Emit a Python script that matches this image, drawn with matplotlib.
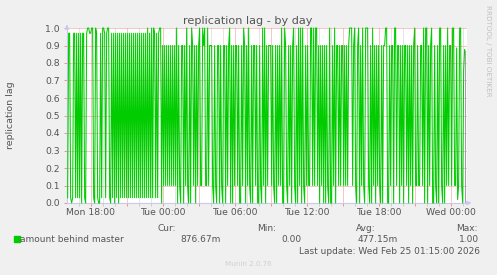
import numpy as np
import matplotlib
matplotlib.use("Agg")
import matplotlib.pyplot as plt

# -------- DATA (5 minute samples) --------
# Mon 16:05 - 18:00
mon_evening = [0.03, 0.97, 0.97, 0.03, 0, 0.03, 0.97, 0.97, 0.03, 0.97, 0.03, 0.97,
               0.03, 0.97, 0, 0.97, 0.97, 0.03, 0, 0.97, 1, 1, 0.97]
# Mon 18:05 - Tue 00:00
mon_night = [0.97, 1, 1, 0.03, 0, 1, 0.97, 0.03, 0, 0, 0.97, 0.03, 1, 1, 0.97, 0.03,
             0.97, 1, 1, 0.03, 0, 0.97, 0.03, 0.97, 0, 0.97, 0.03, 0.97, 0, 0.97, 0.03,
             0.97, 0.03, 0.97, 0.03, 0.97, 0.03, 0.97, 0.03, 0.97, 0.03, 0.97, 0.03, 0.97,
             0.03, 0.97, 0.03, 0.97, 0.03, 0.97, 0.03, 0.97, 0.03, 0.97, 0.03, 0.97, 0.03,
             1, 0.03, 0.97, 0.03, 1, 0.03, 1, 0.97, 0.03, 0.97, 0.03, 0.97, 1, 1, 0]
# Tue 00:05 - 06:00
tue_early = [0.9, 0.1, 0.9, 0.1, 0.9, 0.1, 0.9, 0.1, 0.9, 0.1, 0.9, 0.1, 0.9, 0.1,
             1, 0, 0.9, 0.1, 0, 0.9, 0.9, 0, 0.9, 0.1,
             1, 0.1, 0, 0.9, 0, 1, 0.9, 0.1, 0.9, 0,
             0.9, 0.1, 0.9, 1, 0.1, 0.1, 1, 0.9, 1, 0.1,
             0.1, 1, 0.1, 0.9, 0.9, 0.9, 0.1, 0, 0.9, 0.1,
             0, 0.9, 0.9, 0, 0.9, 0.1, 0, 0.9, 0.9, 0,
             0.9, 0.1, 0.9, 1, 0, 0.9, 0, 0.9]
# Tue 06:05 - 12:00
tue_morning = [0.1, 0.9, 0.9, 0.1, 0.9, 0, 0, 0.9, 0.1, 1,
               0.9, 0, 0.9, 0.1, 1, 0.1, 0, 0.9, 0, 0.9,
               0.9, 0.1, 0.9, 0, 0, 0.9, 0.1, 0, 1, 0.1,
               1, 0, 0.9, 0.1, 0.9, 0.9, 0.9, 0.1, 0.9, 0.1,
               0, 0.9, 0, 0.9, 0.1, 0.9, 0.1, 1, 0, 0,
               1, 0.9, 0.1, 0, 0.9, 0.1, 0.9, 0, 0.9, 1,
               0.1, 0, 0.9, 0, 1, 0.1, 1, 0, 1, 0.1,
               0, 0.9]
# Tue 12:05 - 18:00
tue_afternoon = [0.1, 0.9, 0.1, 0.1, 1, 1, 0.1, 1, 0.1, 1,
                 1, 0.1, 0.9, 0, 0.9, 0.1, 0.9, 0, 0.9, 0,
                 0.9, 0.1, 0, 1, 0, 0, 0.9, 0.1, 1, 0,
                 0.9, 0.9, 0.1, 0.9, 0.1, 0.9, 0.9, 0.1, 0.9, 0.1,
                 0.9, 0.1, 0.9, 1, 1, 1, 0.1, 0.9, 1, 0.1,
                 0, 0.9, 1, 0, 0.9, 0.1, 1, 0.1, 0, 1,
                 1, 1, 0.1, 0, 0.9, 0, 1, 0.1, 0.9, 0,
                 0.9, 0.1]
# Tue 18:05 - Wed 00:00
tue_evening = [0.9, 0.1, 0, 0.9, 0, 0.9, 0.9, 1, 1, 0,
               0, 0.9, 0.1, 0.9, 0.9, 0, 1, 1, 0.1, 0.9,
               0.9, 0, 0.9, 0.1, 0.9, 0, 0.9, 0.9, 0.1, 0.9,
               0, 0.9, 0.1, 0.9, 0, 0.9, 1, 0.1, 0.1, 0.9,
               0.1, 0.1, 0.9, 0.9, 0.1, 1, 0, 1, 1, 0,
               0.9, 0.1, 0.9, 1, 0, 0, 0.9, 0.1, 0, 0.9,
               0, 1, 1, 0.1, 0, 0.9, 0, 0.9, 0.1, 1,
               0.1, 0.9]
# Wed 00:05 - 01:15
wed_early = [0.9, 0.1, 1, 1, 0.1, 0.1, 0.886, 0.02, 0.1, 1, 1, 0.1, 0, 0.76, 0.877]

tick_hours = [18, 24, 30, 36, 42, 48]   # hours since Mon 00:00
tick_labels = ["Mon 18:00", "Tue 00:00", "Tue 06:00", "Tue 12:00", "Tue 18:00", "Wed 00:00"]

series_label = "amount behind master"
stat_names = ["Cur:", "Min:", "Avg:", "Max:"]
stat_values = ["876.67m", "0.00", "477.15m", "1.00"]
last_update = "Last update: Wed Feb 25 01:15:00 2026"


# -------- BUILD SERIES --------
lag = mon_evening + mon_night + tue_early + tue_morning + tue_afternoon + tue_evening + wed_early
first = 16 + 5 / 60          # Mon 16:05
times = first + np.arange(len(lag)) * 5 / 60

W, H = 497, 275
TEXT = "#555555"
RED = "#F09090"
GREY = "#CCCCCC"
AXIS = "#C8C8F0"

fig = plt.figure(figsize=(W / 100, H / 100), dpi=100, facecolor="#F0F0F0")
ax = fig.add_axes([67 / W, 1 - 203 / H, 400 / W, 175 / H])
ax.set_facecolor("white")

ax.plot(times, lag, color="#00CC00", lw=0.75, clip_on=False, zorder=3)
ax.vlines(times[-1], 0, lag[-1], color="#A0A0A0", lw=0.8, zorder=3)

x0 = 16.03
ax.set_xlim(x0, x0 + 400 / 12)
ax.set_ylim(0, 1)

# grid: hourly grey, 3-hourly red, labels every 6 hours
major = np.arange(18, 49, 3)
ax.set_xticks(major)
ax.set_xticklabels([tick_labels[tick_hours.index(h)] if h in tick_hours else "" for h in major])
ax.set_xticks([h for h in range(17, 50) if h % 3 != 0], minor=True)
ax.set_yticks(np.arange(0, 1.01, 0.1))
ax.set_yticklabels([f"{v:.1f}" for v in np.arange(0, 1.01, 0.1)])

ax.grid(True, which="major", color=RED, lw=0.72, ls=(0, (1, 1)), zorder=1)
ax.grid(True, which="minor", axis="x", color=GREY, lw=0.72, ls=(0, (1, 1)), zorder=1)

ax.tick_params(axis="x", which="major", length=2, width=0.7, color=RED,
               labelsize=6.7, labelcolor=TEXT, pad=1.5)
ax.tick_params(axis="x", which="minor", length=2, width=0.7, color=GREY)
ax.tick_params(axis="y", length=2, width=0.7, color=RED, labelsize=6.7,
               labelcolor=TEXT, pad=3)

for side in ["top", "right"]:
    ax.spines[side].set_visible(False)
for side in ["left", "bottom"]:
    ax.spines[side].set_color(AXIS)
    ax.spines[side].set_linewidth(0.8)

# axis arrows
ax.annotate("", xy=(0, 1.035), xytext=(0, 0.99), xycoords="axes fraction",
            arrowprops=dict(arrowstyle="-|>", color=AXIS, lw=0.8, mutation_scale=6))
ax.annotate("", xy=(1.018, 0), xytext=(0.99, 0), xycoords="axes fraction",
            arrowprops=dict(arrowstyle="-|>", color=AXIS, lw=0.8, mutation_scale=6))


# -------- TEXTS --------
def px(x, y, s, **kw):
    fig.text(x / W, 1 - y / H, s, va="baseline", **kw)


px(248, 24.5, "replication lag - by day", ha="center", fontsize=8.1, color=TEXT)
fig.text(11 / W, 1 - 115.5 / H, "replication lag", rotation=90, ha="center", va="center",
         fontsize=6.8, color=TEXT)
fig.text(488 / W, 1 - 51 / H, "RRDTOOL / TOBI OETIKER", rotation=270, ha="center",
         va="center", fontsize=5.1, color="#C0C0C0")

fig.patches.append(plt.Rectangle((14 / W, 1 - 242 / H), 6 / W, 6 / H, color="#00CC00",
                                 transform=fig.transFigure, figure=fig))
px(20.5, 242.5, series_label, fontsize=6.5, color=TEXT)

name_x = [157, 257, 356, 456]
value_x = [180, 281, 358, 459]
for nx, vx, name, val in zip(name_x, value_x, stat_names, stat_values):
    px(nx, 231, name, fontsize=6.5, color=TEXT)
    px(vx, 242.5, val, fontsize=6.5, color=TEXT)

px(299, 254, last_update, fontsize=6.5, color=TEXT)
px(225, 266, "Munin 2.0.76", fontsize=5.1, color="#D0D0D0")

fig.savefig("out.png", dpi=100, facecolor=fig.get_facecolor())
